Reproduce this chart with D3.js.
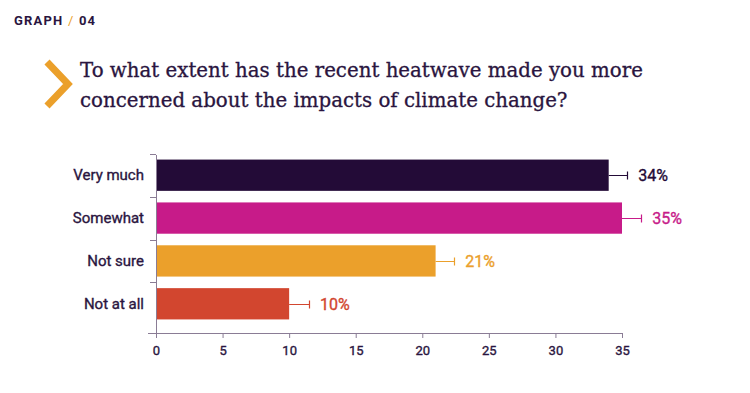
<!DOCTYPE html>
<html>
<head>
<meta charset="utf-8">
<script src="https://cdn.jsdelivr.net/npm/d3@7"></script>
<style>
  body { margin: 0; background: #fff; }
  svg { display: block; }
</style>
</head>
<body>
<script>
const categories = ["Very much", "Somewhat", "Not sure", "Not at all"];
const values = [34, 35, 21, 10];
const errors = [1.4, 1.45, 1.4, 1.5];
const colors = ["#230b37", "#c71b89", "#eba02b", "#d2462f"];
const xTicks = [0, 5, 10, 15, 20, 25, 30, 35];

const width = 750, height = 393;
const textColor = "#2a1540", axisColor = "#8a7c95";

const svg = d3.select("body").append("svg")
    .attr("width", width)
    .attr("height", height)

// header
const head = svg.append("text")
    .attr("x", 14)
    .attr("y", 25)
    .style("font-family", "Roboto, sans-serif")
    .style("font-weight", 700)
    .style("font-size", "13px")
    .style("letter-spacing", "1.2px")
    .attr("fill", textColor)
head.append("tspan").text("GRAPH ")
head.append("tspan").attr("fill", "#eba02b").style("font-weight", 400).text("/")
head.append("tspan").text(" 04")

// chevron
svg.append("path")
    .attr("d", "M47,62 L68,84 L47,106")
    .attr("fill", "none")
    .attr("stroke", "#eba02b")
    .attr("stroke-width", 7)

const title = svg.append("text")
    .style("font-family", "'DejaVu Serif', serif")
    .style("font-size", "19.8px")
    .attr("fill", textColor)
    .attr("stroke", textColor)
    .attr("stroke-width", 0.3)
title.append("tspan").attr("x", 80).attr("y", 77)
    .text("To what extent has the recent heatwave made you more")
title.append("tspan").attr("x", 80).attr("y", 107)
    .text("concerned about the impacts of climate change?")

const x = d3.scaleLinear().domain([0, 35]).range([156, 622])
const y = d3.scaleBand().domain(categories).range([154, 325]).paddingInner(0.27).paddingOuter(0.13)

const g = svg.append("g")

// medium-ish weight: regular glyphs with a thin outline
function medium(sel, fill) {
    sel.style("font-family", "Roboto, sans-serif")
        .style("font-weight", 400)
        .attr("fill", fill)
        .attr("stroke", fill)
        .attr("stroke-width", 0.35)
}

// x axis
const xAxis = d3.axisBottom(x).tickValues(xTicks).tickSize(5).tickSizeOuter(0).tickPadding(8)
const xg = g.append("g")
    .attr("transform", "translate(0,333)")
    .call(xAxis)
xg.select(".domain").attr("stroke", axisColor).attr("d", "M148,0.5H622")
xg.selectAll(".tick line").attr("stroke", axisColor)
xg.selectAll(".tick text")
    .call(medium, textColor)
    .style("font-size", "13px")

// y axis line and ticks at band starts
g.append("line")
    .attr("x1", 156.5).attr("x2", 156.5)
    .attr("y1", 155).attr("y2", 338)
    .attr("stroke", axisColor)
g.selectAll(".ytick")
    .data(categories)
    .enter()
    .append("line")
    .attr("x1", 150).attr("x2", 156)
    .attr("y1", d => Math.round(y(d) - y.step() * y.paddingInner() / 2) + 0.5)
    .attr("y2", d => Math.round(y(d) - y.step() * y.paddingInner() / 2) + 0.5)
    .attr("stroke", axisColor)

g.selectAll(".ylab")
    .data(categories)
    .enter()
    .append("text")
    .attr("x", 144)
    .attr("y", d => y(d) + y.bandwidth() / 2)
    .attr("dy", "0.35em")
    .attr("text-anchor", "end")
    .call(medium, textColor)
    .style("font-size", "15px")
    .text(d => d)

// bars
g.selectAll(".bar")
    .data(categories)
    .enter()
    .append("rect")
    .attr("x", x(0) + 1)
    .attr("y", d => y(d))
    .attr("width", (d, i) => x(values[i]) - x(0) - 1)
    .attr("height", y.bandwidth())
    .attr("fill", (d, i) => colors[i])

// error bars
g.selectAll(".err")
    .data(categories)
    .enter()
    .append("path")
    .attr("d", (d, i) => {
        const cy = Math.round(y(d) + y.bandwidth() / 2) + 0.5
        const x1 = x(values[i]), x2 = Math.round(x(values[i] + errors[i])) + 0.5
        return "M" + x1 + "," + cy + "H" + x2 + "M" + x2 + "," + (cy - 4) + "V" + (cy + 4)
    })
    .attr("fill", "none")
    .attr("stroke", (d, i) => colors[i])
    .attr("stroke-width", 1.2)

// value labels
g.selectAll(".val")
    .data(categories)
    .enter()
    .append("text")
    .attr("x", (d, i) => x(values[i] + errors[i]) + 11)
    .attr("y", d => y(d) + y.bandwidth() / 2)
    .attr("dy", "0.36em")
    .each(function (d, i) { d3.select(this).call(medium, colors[i]) })
    .style("font-size", "16px")
    .text((d, i) => values[i] + "%")
</script>
</body>
</html>
